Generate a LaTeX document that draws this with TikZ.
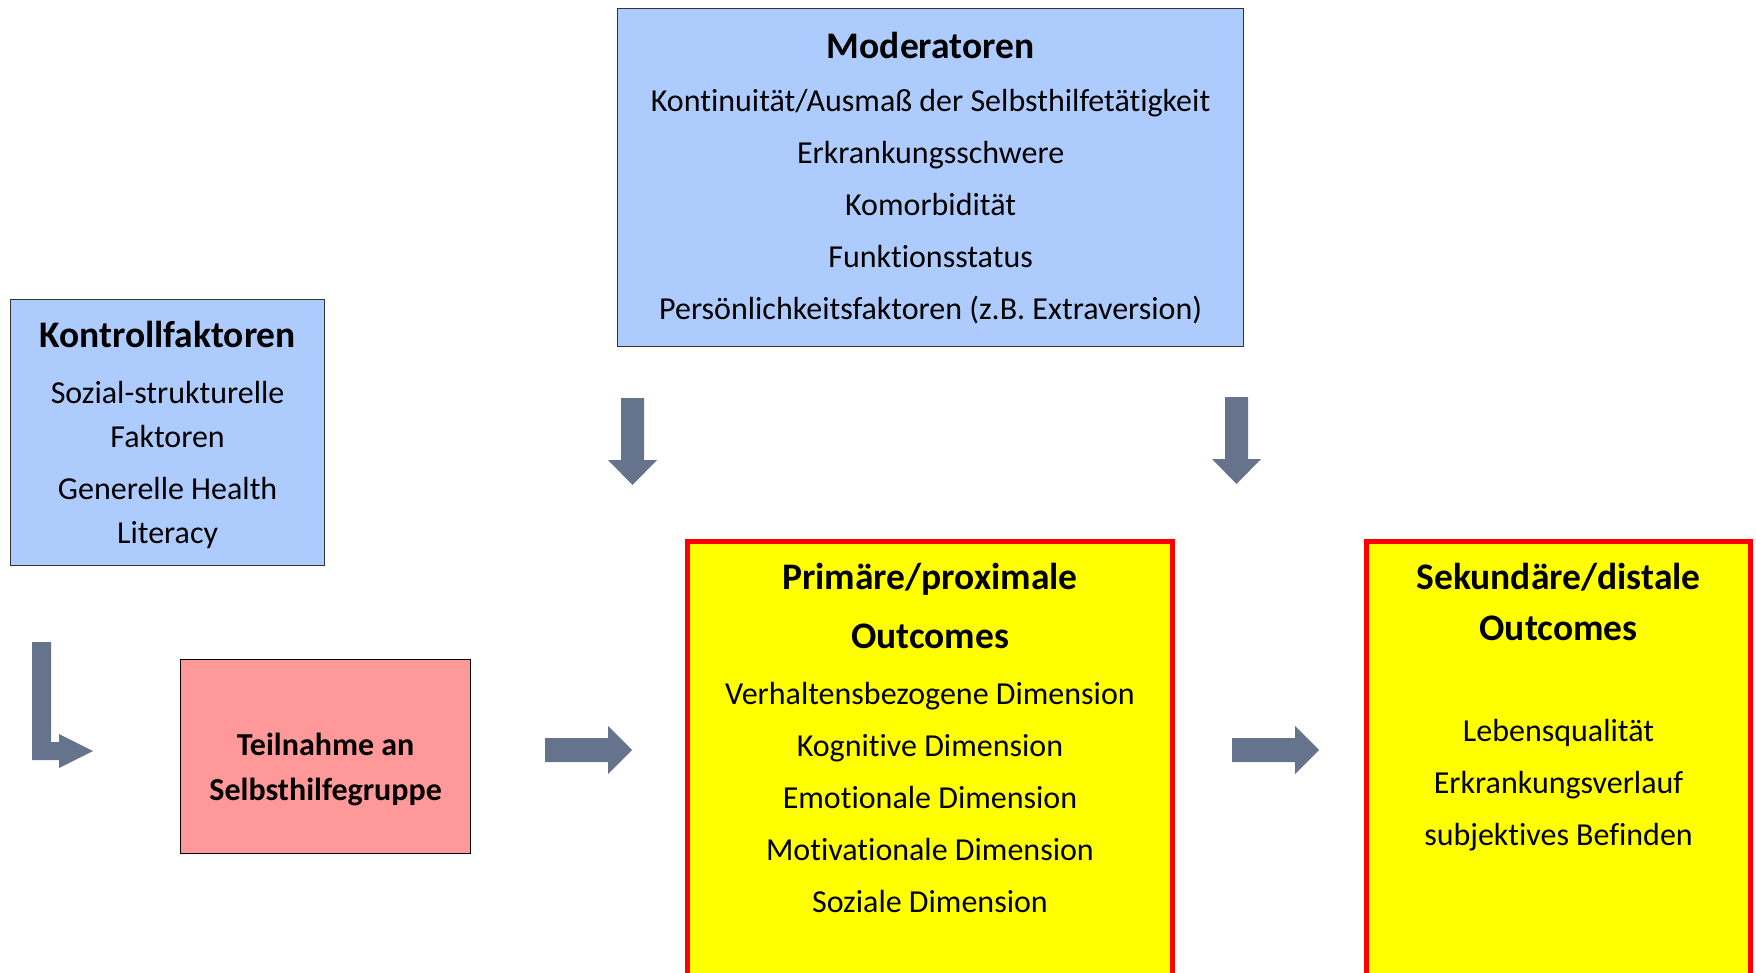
\documentclass[tikz,border=0pt]{standalone}
\usepackage{fontspec}
\setmainfont[Ligatures=NoCommon]{Carlito}
\usetikzlibrary{positioning}
\definecolor{modblau}{RGB}{174,203,253}
\definecolor{teilrot}{RGB}{255,153,153}
\definecolor{gelb}{RGB}{255,255,0}
\definecolor{rahmenrot}{RGB}{255,0,0}
\definecolor{pfeilgrau}{RGB}{101,116,140}
\newcommand{\hd}{\bfseries\fontsize{37.5}{52}\selectfont}
\tikzset{
  box/.style={rectangle, inner sep=0pt},
  blaubox/.style={box, draw=black!80, line width=1.2pt, fill=modblau},
  rotbox/.style={box, draw=black, line width=1.2pt, fill=teilrot},
  gelbbox/.style={box, draw=rahmenrot, line width=5pt, fill=gelb},
  txt/.style={align=center, inner sep=0pt, font=\fontsize{32}{52}\selectfont},
  pfeil/.style={fill=pfeilgrau}
}
\begin{document}
\begin{tikzpicture}[x=1pt, y=-1pt]
  \useasboundingbox (0,0) rectangle (1756,973);
  % Kaesten
  \node[blaubox, minimum width=626, minimum height=338, anchor=north west] (mod) at (617,8) {};
  \node[blaubox, minimum width=314, minimum height=266, anchor=north west] (kontr) at (10,299) {};
  \node[rotbox, minimum width=290, minimum height=194, anchor=north west] (teil) at (180,659) {};
  \node[gelbbox, minimum width=485, minimum height=480, anchor=north west] (prim) at (685,539) {};
  \node[gelbbox, minimum width=384, minimum height=480, anchor=north west] (sek) at (1364,539) {};
  % Texte
  \node[txt, below=24pt of mod.north] (modtxt)
    {{\hd Moderatoren}\\[1pt]
     Kontinuität/Ausmaß der Selbsthilfetätigkeit\\
     Erkrankungsschwere\\
     Komorbidität\\
     Funktionsstatus\\
     Persönlichkeitsfaktoren (z.B. Extraversion)};
  \node[txt, below=22pt of kontr.north] (kontrtxt)
    {{\hd Kontrollfaktoren}\\[4pt]
     Sozial-strukturelle\\[-8pt] Faktoren\\
     Generelle Health\\[-8pt] Literacy};
  \node[txt, below=74pt of teil.north] (teiltxt)
    {{\bfseries\fontsize{32}{52}\selectfont Teilnahme an}\\[-7pt]
     {\bfseries\fontsize{32}{52}\selectfont Selbsthilfegruppe}};
  \node[txt, below=24pt of prim.north] (primtxt)
    {{\hd Primäre/proximale}\\[7pt]
     {\hd Outcomes}\\[4pt]
     Verhaltensbezogene Dimension\\
     Kognitive Dimension\\
     Emotionale Dimension\\
     Motivationale Dimension\\
     Soziale Dimension};
  \node[txt, below=24pt of sek.north] (sektxt)
    {{\hd Sekundäre/distale}\\[-1pt]
     {\hd Outcomes}\\[49pt]
     Lebensqualität\\
     Erkrankungsverlauf\\
     subjektives Befinden};
  % Pfeile
  \fill[pfeil] (621,398) -- (644,398) -- (644,460) -- (657,460) -- (632.5,485)
    -- (608,460) -- (621,460) -- cycle;
  \fill[pfeil] (1225,397) -- (1248,397) -- (1248,459) -- (1261,459) -- (1236.5,484)
    -- (1212,459) -- (1225,459) -- cycle;
  \fill[pfeil] (545,738) -- (608,738) -- (608,726) -- (632,750) -- (608,774)
    -- (608,762) -- (545,762) -- cycle;
  \fill[pfeil] (1232,738) -- (1295,738) -- (1295,726) -- (1319,750) -- (1295,774)
    -- (1295,762) -- (1232,762) -- cycle;
  \fill[pfeil] (32,642) -- (51,642) -- (51,742) -- (59,742) -- (59,734) -- (93,751)
    -- (59,768) -- (59,760) -- (32,760) -- cycle;
\end{tikzpicture}
\end{document}
